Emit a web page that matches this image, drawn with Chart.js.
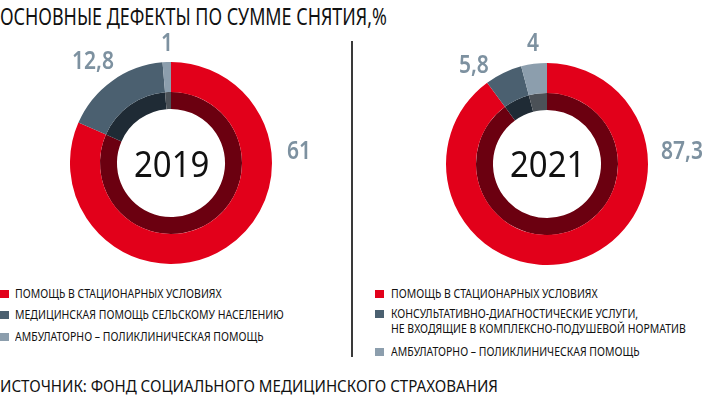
<!DOCTYPE html>
<html>
<head>
<meta charset="utf-8">
<script src="https://cdn.jsdelivr.net/npm/chart.js@4/dist/chart.umd.min.js"></script>
<style>
  html, body { margin: 0; padding: 0; background: #fff; }
  body { width: 720px; height: 397px; position: relative; overflow: hidden; font-family: "Noto Sans", sans-serif; }
  .t { position: absolute; white-space: nowrap; line-height: 1; transform-origin: 0 0; }
  .title { left: 0; top: 4px; font-size: 24px; color: #111; }
  .chartbox { position: absolute; width: 202px; height: 202px; }
  .center { font-size: 36px; color: #111; }
  .val { font-size: 25px; color: #7d91a0; font-weight: 600; }
  .divider { position: absolute; left: 351px; top: 41px; width: 2px; height: 316px; background: #3a3a3a; }
  .leg { font-size: 12px; color: #111; }
  .sq { position: absolute; width: 9px; height: 8px; }
  .source { left: 0; top: 377px; font-size: 17px; color: #111; }
</style>
</head>
<body>
<div class="t title" id="title"></div>
<div class="divider"></div>

<div class="chartbox" style="left:70px; top:62px;"><canvas id="c2019" width="202" height="202"></canvas></div>
<div class="chartbox" style="left:446px; top:63px;"><canvas id="c2021" width="202" height="202"></canvas></div>

<div id="overlay"></div>
<div class="t source" id="source"></div>

<script>
// ---- data ----
const titleText = "ОСНОВНЫЕ ДЕФЕКТЫ ПО СУММЕ СНЯТИЯ,%";
const sourceText = "ИСТОЧНИК: ФОНД СОЦИАЛЬНОГО МЕДИЦИНСКОГО СТРАХОВАНИЯ";
const years = ["2019", "2021"];
const categories2019 = ["ПОМОЩЬ В СТАЦИОНАРНЫХ УСЛОВИЯХ", "МЕДИЦИНСКАЯ ПОМОЩЬ СЕЛЬСКОМУ НАСЕЛЕНИЮ", "АМБУЛАТОРНО – ПОЛИКЛИНИЧЕСКАЯ ПОМОЩЬ"];
const categories2021 = ["ПОМОЩЬ В СТАЦИОНАРНЫХ УСЛОВИЯХ", "КОНСУЛЬТАТИВНО-ДИАГНОСТИЧЕСКИЕ УСЛУГИ,\nНЕ ВХОДЯЩИЕ В КОМПЛЕКСНО-ПОДУШЕВОЙ НОРМАТИВ", "АМБУЛАТОРНО – ПОЛИКЛИНИЧЕСКАЯ ПОМОЩЬ"];
const values2019 = [61, 12.8, 1];
const values2021 = [87.3, 5.8, 4];
const valueLabels2019 = ["61", "12,8", "1"];
const valueLabels2021 = ["87,3", "5,8", "4"];

// ---- styles / layout ----
const outerColors = ["#e2001a", "#4b6070", "#8c9ead"];
const innerColors = ["#6b0010", "#1f2b35", "#4b5157"];

function fit(el, w) {
  const cw = el.scrollWidth;
  if (cw > 0) el.style.transform = "scaleX(" + (w / cw) + ")";
}
const ov = document.getElementById("overlay");
function addText(cls, text, left, top, width, center) {
  const d = document.createElement("div");
  d.className = "t " + cls;
  d.textContent = text;
  d.style.left = left + "px";
  d.style.top = top + "px";
  ov.appendChild(d);
  if (width) fit(d, width);
  if (center) d.style.left = (left - width / 2) + "px";
  return d;
}

const t = document.getElementById("title"); t.textContent = titleText; fit(t, 387);
const s = document.getElementById("source"); s.textContent = sourceText; fit(s, 498);

addText("center", years[0], 171.5, 146, 75, true);
addText("center", years[1], 547, 146, 75, true);

function makeChart(id, labels, values) {
  return new Chart(document.getElementById(id), {
    type: "doughnut",
    data: {
      labels: labels,
      datasets: [
        { data: values, backgroundColor: outerColors, borderWidth: 0, weight: 30 },
        { data: values, backgroundColor: innerColors, borderWidth: 0, weight: 17 }
      ]
    },
    options: {
      responsive: false,
      animation: false,
      cutout: "53.5%",
      layout: { padding: 0 },
      plugins: { legend: { display: false }, tooltip: { enabled: false } },
      events: []
    }
  });
}
makeChart("c2019", categories2019, values2019);
makeChart("c2021", categories2021, values2021);

// value labels: common horizontal scale derived from "12,8" (reference ink width ~41px)
const probe = addText("val", "12,8", 0, -100, 0);
const valScale = 42 / probe.scrollWidth;
probe.remove();
const labelPos2019 = [[287, 137], [72, 47], [161, 29]];
const labelPos2021 = [[661, 137], [459, 51], [527, 29]];
function addVals(vals, pos) {
  vals.forEach((v, i) => {
    const d = addText("val", v, pos[i][0], pos[i][1], 0);
    d.style.transform = "scaleX(" + valScale + ")";
  });
}
addVals(valueLabels2019, labelPos2019);
addVals(valueLabels2021, labelPos2021);

// legends
const legScale = 207; // width of first line in reference
function addLegend(cats, sqX, txtX, sqTops, lineTops) {
  let scale = null;
  let li = 0;
  cats.forEach((c, i) => {
    const sq = document.createElement("div");
    sq.className = "sq";
    sq.style.left = sqX + "px";
    sq.style.top = sqTops[i] + "px";
    sq.style.background = outerColors[i];
    ov.appendChild(sq);
    c.split("\n").forEach((line) => {
      const d = document.createElement("div");
      d.className = "t leg";
      d.textContent = line;
      d.style.left = txtX + "px";
      d.style.top = lineTops[li++] + "px";
      ov.appendChild(d);
      if (scale === null) scale = legScale / d.scrollWidth;
      d.style.transform = "scaleX(" + scale + ")";
    });
  });
}
addLegend(categories2019, 0, 15, [290, 311, 333], [288, 309, 331]);
addLegend(categories2021, 375, 391, [290, 310, 348], [288, 308, 323, 346]);
</script>
</body>
</html>
